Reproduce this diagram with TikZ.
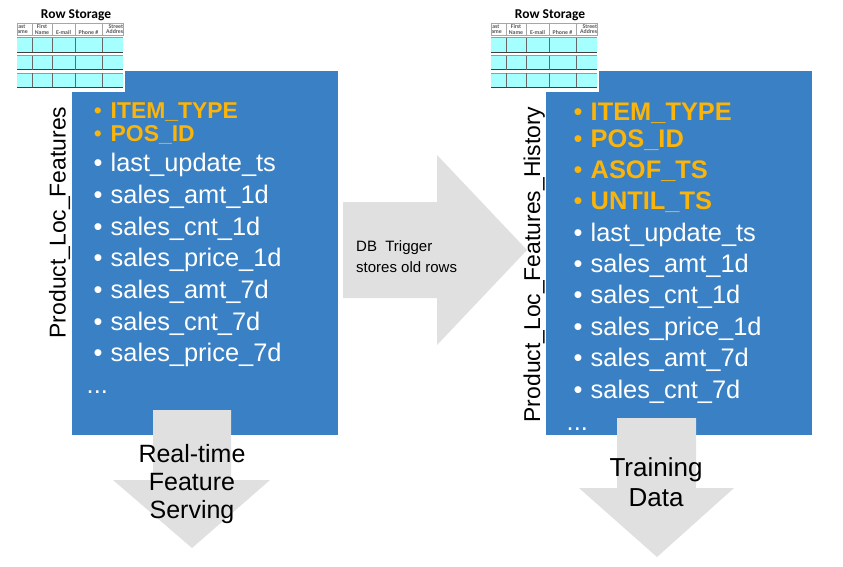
\documentclass[tikz,border=0pt]{standalone}
\usepackage{fontspec}
\setmainfont{Liberation Sans}
\newfontfamily\calibfont{Carlito}
\definecolor{boxblue}{RGB}{58,128,196}
\definecolor{keyorange}{RGB}{250,180,10}
\definecolor{arrowgray}{RGB}{224,224,224}
\definecolor{rowcyan}{RGB}{166,255,255}
\tikzset{
  bluebox/.style={draw=none, fill=boxblue, inner sep=0, anchor=north west},
  item/.style={anchor=base west, inner sep=0, text=white, font=\fontsize{25.4}{30}\selectfont},
  keyitem/.style={anchor=base west, inner sep=0, text=keyorange, font=\bfseries\fontsize{#1}{30}\selectfont},
  dotw/.style={anchor=base, inner sep=0, text=white, font=\fontsize{25.4}{30}\selectfont},
  doto/.style={anchor=base, inner sep=0, text=keyorange, font=\fontsize{#1}{30}\selectfont},
  sidelabel/.style={anchor=base, inner sep=0, rotate=90, font=\fontsize{22.9}{26}\selectfont},
  flowtext/.style={anchor=base, inner sep=0, font=\fontsize{#1}{30}\selectfont},
  bigarrow/.style={fill=arrowgray, draw=none},
  hdrtext/.style={inner sep=0, align=center, text=black!65, font=\calibfont\bfseries\fontsize{5.8}{5.6}\selectfont},
}
\newcommand\rowstore[2]{%
\begin{scope}[xshift=#1pt]
  \fill[white] (0,0) rectangle (125,92);
  \node[inner sep=0, anchor=base, font=\calibfont\bfseries\fontsize{13.5}{15}\selectfont] (#2title) at (76,18.5) {Row Storage};
  \begin{scope}
    \clip (17,23) rectangle (123,35.5);
    \fill[white] (17,23) rectangle (123,35);
    \node[hdrtext, anchor=east] (#2h1) at (28,29.3) {Last\\Name};
    \node[hdrtext] (#2h2) at (42,29.3) {First\\Name};
    \node[hdrtext] (#2h3) at (63.5,32) {E-mail};
    \node[hdrtext] (#2h4) at (88.5,32) {Phone \#};
    \node[hdrtext, anchor=west] (#2h5) at (106,29.3) {Street\\Address};
  \end{scope}
  \draw[black!35, line width=.5] (17,23) rectangle (123,35);
  \foreach \cx in {32,52,75,102} \draw[black!35, line width=.5] (\cx,23) -- (\cx,35);
  \foreach \ya/\yb in {37.5/52, 55.5/69.5, 73/87} {
    \fill[rowcyan] (17,\ya) rectangle (123,\yb);
    \draw[black!40, line width=.6] (17,\ya) -- (123,\ya);
    \draw[black!75, line width=1] (17,\yb) -- (123,\yb);
    \foreach \cx in {32,52,75,102} \draw[black!60, line width=.8] (\cx,\ya) -- (\cx,\yb);
  }
\end{scope}}
\begin{document}
\begin{tikzpicture}[x=1pt,y=-1pt]
\useasboundingbox (0,0) rectangle (843,566);
\fill[white] (0,0) rectangle (843,566);

% blue boxes
\node[bluebox, minimum width=266pt, minimum height=364pt] (lbox) at (72,71) {};
\node[bluebox, minimum width=266pt, minimum height=364pt] (rbox) at (546,71) {};

% row storage pictures
\rowstore{0}{l}
\rowstore{474}{r}

% middle arrow
\path[bigarrow] (343,202) -- (437,202) -- (437,155) -- (527,250) -- (437,345) -- (437,298) -- (343,298) -- cycle;
\node[anchor=base west, inner sep=0, font=\fontsize{15}{21}\selectfont] (trig1) at (356,251) {DB\ \ Trigger};
\node[anchor=base west, inner sep=0, font=\fontsize{15}{21}\selectfont] (trig2) at (356,272) {stores old rows};

% side labels
\node[sidelabel] (llabel) at (65.5,222.5) {Product\_Loc\_Features};
\node[sidelabel] (rlabel) at (540,264.5) {Product\_Loc\_Features\_History};

% left list
\node[doto=22.9] (lb1) at (98,118.3) {•};
\node[keyitem=22.9] (lk1) at (110.5,118.3) {ITEM\_TYPE};
\node[doto=22.9] (lb2) at (98,141.7) {•};
\node[keyitem=22.9] (lk2) at (110.5,141.7) {POS\_ID};
\foreach \t/\yy [count=\i] in {last\_update\_ts/171.7, sales\_amt\_1d/203.3, sales\_cnt\_1d/235, sales\_price\_1d/266.7, sales\_amt\_7d/298.3, sales\_cnt\_7d/330, sales\_price\_7d/361.5} {
  \node[dotw] (lwb\i) at (98,\yy) {•};
  \node[item] (lw\i) at (110.5,\yy) {\t};
}
\node[item] (ldots) at (86.5,393) {...};

% right list
\foreach \t/\yy [count=\i] in {ITEM\_TYPE/120, POS\_ID/147, ASOF\_TS/178, UNTIL\_TS/209} {
  \node[doto=25.4] (rb\i) at (578,\yy) {•};
  \node[keyitem=25.4] (rk\i) at (590.5,\yy) {\t};
}
\foreach \t/\yy [count=\i] in {last\_update\_ts/241, sales\_amt\_1d/272, sales\_cnt\_1d/303.5, sales\_price\_1d/335, sales\_amt\_7d/366.5, sales\_cnt\_7d/398} {
  \node[dotw] (rwb\i) at (578,\yy) {•};
  \node[item] (rw\i) at (590.5,\yy) {\t};
}
\node[item] (rdots) at (566.5,430) {...};

% down arrows
\path[bigarrow] (153,410) -- (231,410) -- (231,480) -- (270,480) -- (192,548) -- (113,480) -- (153,480) -- cycle;
\path[bigarrow] (617,418) -- (696,418) -- (696,488) -- (734,488) -- (657,557) -- (579,488) -- (617,488) -- cycle;

\node[flowtext=25] (rt1) at (192,462) {Real-time};
\node[flowtext=25] (rt2) at (192,490) {Feature};
\node[flowtext=25] (rt3) at (192,518) {Serving};
\node[flowtext=26] (td1) at (656,476) {Training};
\node[flowtext=26] (td2) at (656,506) {Data};
\end{tikzpicture}
\end{document}
